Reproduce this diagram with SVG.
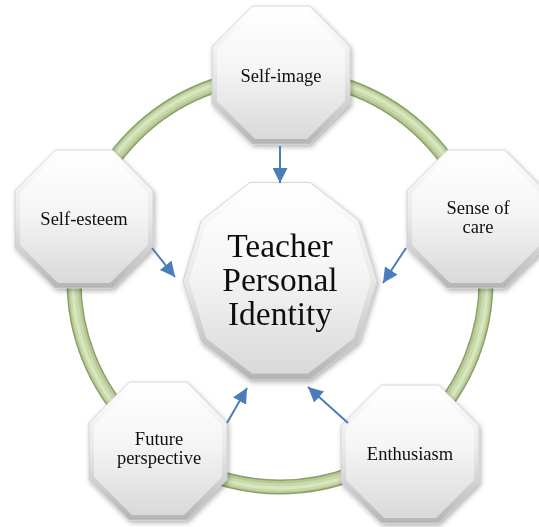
<svg xmlns="http://www.w3.org/2000/svg" width="539" height="527" viewBox="0 0 539 527">
<defs>
<style>
.lbl{font-family:"Liberation Serif","Times New Roman",serif;font-size:18.5px;fill:#111;text-anchor:middle}
.big{font-family:"Liberation Serif","Times New Roman",serif;font-size:33.5px;fill:#111;text-anchor:middle}
.conn{stroke:#4a7ebb;stroke-width:2;fill:none;marker-end:url(#arr)}
.outer{fill:url(#gOut);stroke:#cccccc;stroke-width:0.8}
.inner{fill:url(#gIn)}
</style>
<linearGradient id="gOut" x1="0" y1="0" x2="0" y2="1">
<stop offset="0" stop-color="#ffffff"/>
<stop offset="0.5" stop-color="#e8e8e8"/>
<stop offset="1" stop-color="#b4b4b4"/>
</linearGradient>
<linearGradient id="gIn" x1="0" y1="0" x2="0" y2="1">
<stop offset="0" stop-color="#ffffff"/>
<stop offset="0.45" stop-color="#f5f5f5"/>
<stop offset="1" stop-color="#d9d9d9"/>
</linearGradient>
<filter id="sh" x="-20%" y="-20%" width="150%" height="150%">
<feDropShadow dx="1.5" dy="2.5" stdDeviation="2.5" flood-color="#000" flood-opacity="0.3"/>
</filter>
<marker id="arr" viewBox="0 0 10 10" refX="10" refY="5" markerWidth="7.5" markerHeight="7.5" orient="auto" markerUnits="strokeWidth">
<path d="M0,0 L10,5 L0,10 z" fill="#4a7ebb"/>
</marker>
<polygon id="oct" points="-28.6,-69 28.6,-69 69,-28.6 69,28.6 28.6,69 -28.6,69 -69,28.6 -69,-28.6"/>
<polygon id="octIn" points="-26,-64 26,-64 64,-26 64,26 26,64 -26,64 -64,26 -64,-26"/>
</defs>

<g id="ring" fill="none">
<circle cx="280" cy="281" r="206" stroke="#8aa06c" stroke-width="15"/>
<circle cx="280" cy="281" r="206" stroke="#b6c994" stroke-width="12"/>
<circle cx="280" cy="281" r="206.5" stroke="#c9daaa" stroke-width="8"/>
<circle cx="280" cy="281" r="207" stroke="#d9e6c2" stroke-width="3"/>
</g>

<g id="center" filter="url(#sh)">
<polygon class="outer" points="377,281 358.5,341.9 310,379.4 250,379.4 201.5,341.9 183,281 201.5,220.1 250,182.6 310,182.6 358.5,220.1"/>
<polygon class="inner" points="371,281 353.7,338.2 308.2,373.5 251.8,373.5 206.3,338.2 189,281 206.3,223.8 251.8,188.5 308.2,188.5 353.7,223.8"/>
<text class="big" x="280" y="257">Teacher</text>
<text class="big" x="280" y="291">Personal</text>
<text class="big" x="280" y="325">Identity</text>
</g>

<g id="self-image" transform="translate(281,75)" filter="url(#sh)">
<use href="#oct" class="outer"/>
<use href="#octIn" class="inner"/>
<text class="lbl" x="0" y="7">Self-image</text>
</g>

<g id="self-esteem" transform="translate(84,219)" filter="url(#sh)">
<use href="#oct" class="outer"/>
<use href="#octIn" class="inner"/>
<text class="lbl" x="0" y="6">Self-esteem</text>
</g>

<g id="sense-of-care" transform="translate(476,219)" filter="url(#sh)">
<use href="#oct" class="outer"/>
<use href="#octIn" class="inner"/>
<text class="lbl" x="2" y="-5">Sense of</text>
<text class="lbl" x="2" y="14">care</text>
</g>

<g id="future-perspective" transform="translate(158,451)" filter="url(#sh)">
<use href="#oct" class="outer"/>
<use href="#octIn" class="inner"/>
<text class="lbl" x="1" y="-6">Future</text>
<text class="lbl" x="1" y="13">perspective</text>
</g>

<g id="enthusiasm" transform="translate(410,454)" filter="url(#sh)">
<use href="#oct" class="outer"/>
<use href="#octIn" class="inner"/>
<text class="lbl" x="0" y="6">Enthusiasm</text>
</g>

<g id="connectors">
<line class="conn" x1="280" y1="146" x2="280" y2="183"/>
<line class="conn" x1="152" y1="248" x2="175" y2="277"/>
<line class="conn" x1="406" y1="248" x2="383" y2="283"/>
<line class="conn" x1="227" y1="423" x2="247" y2="388"/>
<line class="conn" x1="348" y1="423" x2="308" y2="387"/>
</g>
</svg>
